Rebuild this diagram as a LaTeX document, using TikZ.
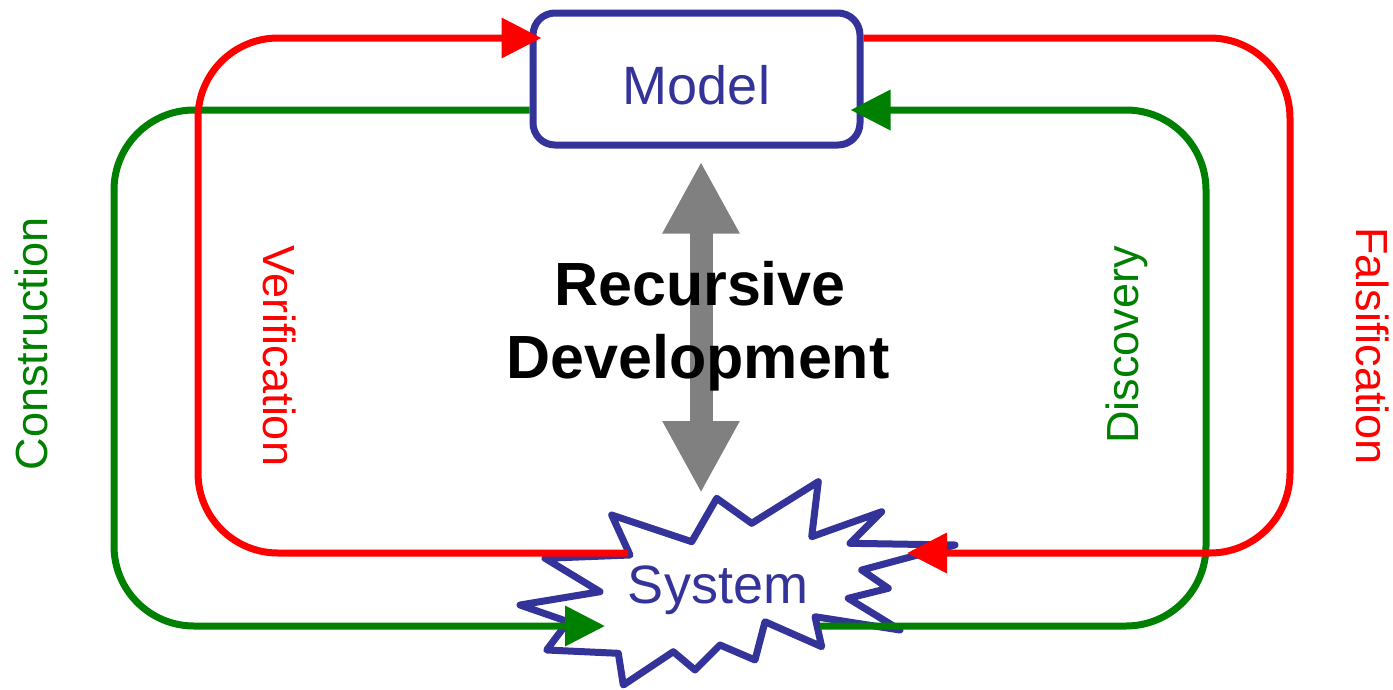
\documentclass[tikz,border=0pt]{standalone}
\usepackage{fontspec}
\setmainfont{Liberation Sans}
\usetikzlibrary{arrows.meta,positioning}
\definecolor{sysblue}{RGB}{51,51,153}
\definecolor{loopgreen}{RGB}{0,128,0}
\definecolor{loopred}{RGB}{255,0,0}
\begin{document}
\begin{tikzpicture}[x=1pt,y=-1pt,
  box/.style={draw=sysblue,line width=7pt,fill=white,rounded corners=22pt,
    minimum width=327pt,minimum height=132pt,inner sep=0pt,text=sysblue,
    font=\fontsize{54}{60}\selectfont},
  redline/.style={draw=loopred,line width=7pt,rounded corners=80pt,
    -{Triangle[length=40pt,width=39pt]}},
  greenline/.style={draw=loopgreen,line width=7pt,rounded corners=80pt,
    -{Triangle[length=40pt,width=39pt]}},
  redlabel/.style={text=loopred,font=\fontsize{45}{50}\selectfont},
  greenlabel/.style={text=loopgreen,font=\fontsize{45}{50}\selectfont},
  devtext/.style={font=\bfseries\fontsize{61}{73}\selectfont,anchor=base}]
\useasboundingbox (0,0) rectangle (1393,689);

% loop corners
\coordinate (rTL) at (198,38);
\coordinate (rBR) at (1290,553);
\coordinate (gTL) at (114,110);
\coordinate (gBR) at (1206,626);

\node[box,text height=52pt] (model) at (696.5,79) {Model};

% grey double arrow
\coordinate (systop) at (701,493);
\draw[gray,line width=23pt,shorten <=13pt,
  {Triangle[length=72pt,width=72pt]}-{Triangle[length=72pt,width=72pt]}]
  (systop |- model.south) -- (systop);

% the system burst
\draw[sysblue,line width=7pt,line join=round,fill=white]
  (611.7,515) -- (691.7,541.7) -- (716.7,498.3) -- (751.7,523.3)
  -- (818.3,481.7) -- (811.7,536.7) -- (881.7,511.7) -- (850,543.3)
  -- (955,545) -- (861.7,570) -- (888.3,588.3) -- (848.3,598.3)
  -- (900,630) -- (815,616.7) -- (821.7,646.7) -- (765,621.7)
  -- (755,660) -- (720,645) -- (695,670) -- (673.3,651.7)
  -- (623.3,685) -- (618.3,653.3) -- (546.7,650) -- (568,621.7)
  -- (520,605) -- (600,591.7) -- (545,558.3) -- (630,555) -- cycle;
\node[text=sysblue,font=\fontsize{54}{60}\selectfont,anchor=base] (system)
  at (718,603) {System};
\coordinate (sysNW) at (628,553);
\coordinate (sysNE) at (907,553);
\coordinate (sysSW) at (605,626);
\coordinate (sysSE) at (820,626);

% green loop
\draw[greenline] (model.west |- gTL) -- (gTL) -- (gTL |- gBR) -- (sysSW);
\draw[greenline,shorten >=-13pt] (sysSE) -- (gBR) -- (gBR |- gTL)
  -- (model.east |- gTL);

% red loop
\draw[redline,shorten >=-12pt] (sysNW) -- (rTL |- rBR) -- (rTL)
  -- (model.west |- rTL);
\draw[redline] (model.east |- rTL) -- (rBR |- rTL) -- (rBR) -- (sysNE);

\node[greenlabel,rotate=90] (constr) at (31,344) {Construction};
\node[redlabel,rotate=-90] (verif) at (280,356) {Verification};
\node[greenlabel,rotate=90] (disc) at (1127,345) {Discovery};
\node[redlabel,rotate=-90] (falsif) at (1373,346) {Falsification};

\node[devtext] (rec) at (700,305) {Recursive};
\node[devtext] (dev) at (698,378) {Development};
\end{tikzpicture}
\end{document}
